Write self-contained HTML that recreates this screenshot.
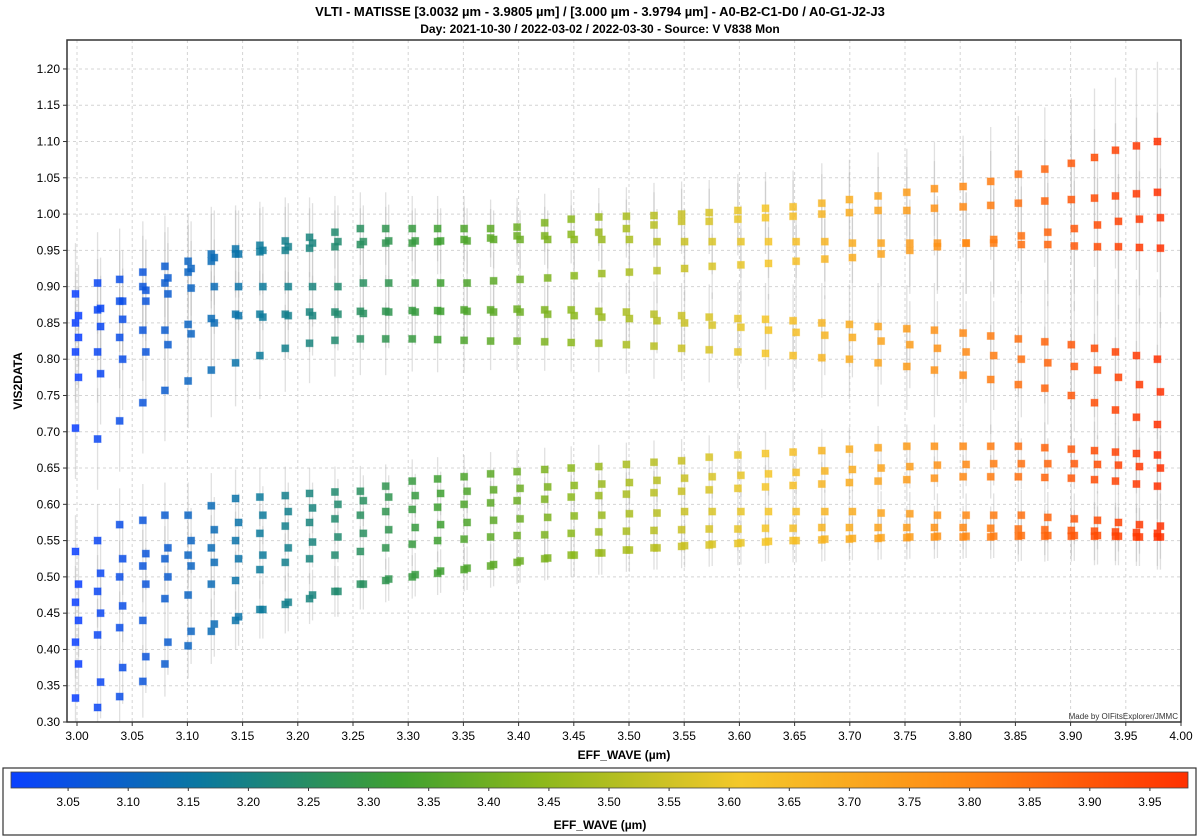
<!DOCTYPE html>
<html><head><meta charset="utf-8">
<style>
html,body{margin:0;padding:0;background:#fff;}
svg{display:block;font-family:"Liberation Sans",sans-serif;}
</style></head>
<body>
<svg id="chart" width="1200" height="838" viewBox="0 0 1200 838">
<defs>
<linearGradient id="cmap" x1="0" x2="1" y1="0" y2="0">
<stop offset="0" stop-color="#0a40ff"/>
<stop offset="0.16" stop-color="#0a78a0"/>
<stop offset="0.33" stop-color="#3fa030"/>
<stop offset="0.45" stop-color="#8cb81c"/>
<stop offset="0.62" stop-color="#f4c82a"/>
<stop offset="0.8" stop-color="#ff8c14"/>
<stop offset="1" stop-color="#ff3000"/>
</linearGradient>
</defs>
<text x="600" y="16" text-anchor="middle" font-size="13" font-weight="bold">VLTI - MATISSE [3.0032 µm - 3.9805 µm] / [3.000 µm - 3.9794 µm] - A0-B2-C1-D0 / A0-G1-J2-J3</text>
<text x="600" y="33" text-anchor="middle" font-size="12" font-weight="bold">Day: 2021-10-30 / 2022-03-02 / 2022-03-30 - Source: V V838 Mon</text>
<g id="grid"></g>
<g id="errs"></g>
<g id="marks"></g>
<g id="axes"></g>
<rect x="67" y="40" width="1114" height="682" fill="none" stroke="#333" stroke-width="1.5"/>
<text x="1178" y="719" text-anchor="end" font-size="8" fill="#333">Made by OIFitsExplorer/JMMC</text>
<text transform="translate(22,381) rotate(-90)" text-anchor="middle" font-size="12" font-weight="bold">VIS2DATA</text>
<text x="624" y="759" text-anchor="middle" font-size="12" font-weight="bold">EFF_WAVE (µm)</text>
<rect x="3" y="768" width="1193" height="67" fill="#fff" stroke="#333" stroke-width="1.2"/>
<rect x="11" y="772" width="1177" height="16" fill="url(#cmap)" stroke="#444" stroke-width="0.8"/>
<g id="cbticks"></g>
<text x="600" y="829" text-anchor="middle" font-size="12" font-weight="bold">EFF_WAVE (µm)</text>
</svg>
<script>
const waves=[3.000,3.020,3.040,3.061,3.081,3.102,3.123,3.145,3.167,3.190,3.212,3.235,3.258,3.281,3.305,3.328,3.352,3.376,3.400,3.425,3.449,3.474,3.499,3.524,3.549,3.574,3.600,3.625,3.650,3.676,3.701,3.727,3.753,3.778,3.804,3.829,3.854,3.878,3.902,3.923,3.942,3.961,3.980];
const upperT1=[0.89,0.905,0.91,0.92,0.928,0.935,0.945,0.952,0.957,0.963,0.968,0.975,0.98,0.98,0.98,0.98,0.98,0.98,0.982,0.988,0.993,0.996,0.997,0.998,1.0,1.002,1.005,1.008,1.01,1.015,1.02,1.025,1.03,1.035,1.038,1.045,1.055,1.062,1.07,1.078,1.088,1.094,1.1];
const upperT2=[0.86,0.87,0.88,0.895,0.912,0.925,0.94,0.945,0.95,0.955,0.96,0.962,0.962,0.963,0.963,0.963,0.963,0.965,0.965,0.965,0.965,0.965,0.965,0.962,0.962,0.962,0.962,0.962,0.962,0.962,0.96,0.96,0.96,0.96,0.96,0.96,0.958,0.958,0.956,0.955,0.955,0.954,0.953];
const upperT3=[0.85,0.868,0.88,0.9,0.905,0.92,0.935,0.945,0.948,0.95,0.953,0.955,0.958,0.96,0.96,0.962,0.965,0.967,0.97,0.97,0.972,0.975,0.98,0.985,0.99,0.99,0.993,0.995,0.997,1.0,1.002,1.005,1.005,1.008,1.01,1.012,1.015,1.018,1.02,1.022,1.025,1.028,1.03];
const upperT4=[0.83,0.845,0.855,0.88,0.89,0.898,0.9,0.9,0.9,0.9,0.9,0.9,0.905,0.905,0.905,0.905,0.905,0.908,0.91,0.912,0.915,0.918,0.92,0.922,0.925,0.928,0.93,0.932,0.935,0.938,0.94,0.945,0.95,0.955,0.96,0.965,0.97,0.975,0.98,0.985,0.99,0.993,0.995];
const upperT5=[0.81,0.81,0.83,0.84,0.84,0.848,0.856,0.862,0.862,0.862,0.865,0.865,0.866,0.866,0.867,0.867,0.868,0.868,0.869,0.868,0.868,0.866,0.865,0.862,0.86,0.858,0.856,0.855,0.853,0.85,0.848,0.845,0.842,0.84,0.836,0.832,0.828,0.824,0.82,0.815,0.81,0.805,0.80];
const upperT6=[0.775,0.78,0.80,0.81,0.82,0.835,0.85,0.86,0.858,0.86,0.86,0.862,0.863,0.865,0.865,0.866,0.866,0.865,0.865,0.862,0.86,0.858,0.856,0.853,0.85,0.847,0.844,0.84,0.837,0.833,0.83,0.825,0.82,0.815,0.81,0.805,0.8,0.795,0.79,0.785,0.775,0.765,0.755];
const upperT7=[0.705,0.69,0.715,0.74,0.757,0.77,0.785,0.795,0.805,0.815,0.822,0.826,0.828,0.828,0.828,0.827,0.826,0.825,0.825,0.824,0.823,0.822,0.82,0.818,0.815,0.813,0.81,0.808,0.805,0.802,0.8,0.795,0.79,0.785,0.778,0.772,0.765,0.76,0.75,0.74,0.73,0.72,0.71];
const lowerL1=[0.535,0.55,0.572,0.578,0.585,0.585,0.598,0.608,0.61,0.612,0.615,0.617,0.618,0.625,0.632,0.635,0.638,0.642,0.645,0.648,0.65,0.652,0.655,0.658,0.66,0.665,0.668,0.67,0.672,0.674,0.676,0.678,0.68,0.68,0.68,0.68,0.68,0.678,0.676,0.674,0.672,0.67,0.668];
const lowerL2=[0.49,0.505,0.525,0.532,0.54,0.55,0.565,0.575,0.585,0.59,0.595,0.6,0.605,0.61,0.612,0.615,0.618,0.62,0.622,0.624,0.626,0.628,0.63,0.633,0.636,0.638,0.64,0.642,0.644,0.646,0.648,0.65,0.652,0.654,0.655,0.656,0.656,0.656,0.656,0.655,0.654,0.652,0.65];
const lowerL3=[0.465,0.48,0.5,0.515,0.525,0.53,0.54,0.55,0.56,0.57,0.575,0.58,0.585,0.59,0.593,0.596,0.6,0.602,0.605,0.607,0.61,0.612,0.614,0.616,0.618,0.62,0.622,0.624,0.626,0.628,0.63,0.632,0.634,0.636,0.638,0.638,0.638,0.637,0.636,0.634,0.632,0.628,0.625];
const lowerL4=[0.44,0.45,0.46,0.49,0.5,0.515,0.52,0.525,0.53,0.54,0.548,0.555,0.56,0.565,0.568,0.572,0.575,0.578,0.58,0.582,0.584,0.585,0.587,0.588,0.59,0.59,0.59,0.59,0.59,0.59,0.59,0.588,0.587,0.585,0.585,0.585,0.585,0.582,0.58,0.578,0.575,0.572,0.57];
const lowerL5=[0.41,0.42,0.43,0.44,0.47,0.475,0.49,0.495,0.51,0.52,0.525,0.53,0.535,0.54,0.545,0.55,0.552,0.555,0.557,0.558,0.56,0.562,0.563,0.564,0.565,0.566,0.566,0.567,0.567,0.568,0.568,0.568,0.568,0.568,0.568,0.567,0.566,0.565,0.564,0.563,0.562,0.561,0.56];
const lowerL6=[0.38,0.355,0.375,0.39,0.41,0.425,0.435,0.445,0.455,0.465,0.475,0.48,0.49,0.497,0.503,0.508,0.512,0.517,0.522,0.526,0.53,0.533,0.537,0.54,0.543,0.545,0.547,0.549,0.55,0.552,0.553,0.554,0.555,0.556,0.556,0.556,0.557,0.557,0.557,0.557,0.556,0.555,0.555];
const lowerL7=[0.333,0.32,0.335,0.356,0.38,0.405,0.425,0.44,0.455,0.462,0.47,0.48,0.49,0.495,0.5,0.505,0.51,0.515,0.52,0.525,0.53,0.533,0.537,0.54,0.542,0.544,0.546,0.548,0.55,0.551,0.552,0.553,0.554,0.555,0.555,0.555,0.556,0.556,0.556,0.556,0.556,0.555,0.555];
const upperErr=[0.07,0.07,0.07,0.07,0.07,0.065,0.065,0.06,0.06,0.06,0.055,0.05,0.05,0.05,0.045,0.045,0.045,0.04,0.04,0.04,0.04,0.04,0.04,0.045,0.045,0.045,0.05,0.05,0.05,0.055,0.055,0.06,0.06,0.065,0.07,0.075,0.08,0.085,0.09,0.095,0.1,0.105,0.11];
const lowerErr=[0.05,0.05,0.05,0.05,0.045,0.045,0.045,0.04,0.04,0.04,0.035,0.035,0.035,0.03,0.03,0.03,0.03,0.03,0.03,0.03,0.03,0.03,0.03,0.03,0.03,0.03,0.03,0.03,0.03,0.03,0.03,0.03,0.03,0.03,0.03,0.03,0.035,0.035,0.035,0.04,0.04,0.04,0.045];
const xTicks=["3.00","3.05","3.10","3.15","3.20","3.25","3.30","3.35","3.40","3.45","3.50","3.55","3.60","3.65","3.70","3.75","3.80","3.85","3.90","3.95","4.00"];
const yTicks=["0.30","0.35","0.40","0.45","0.50","0.55","0.60","0.65","0.70","0.75","0.80","0.85","0.90","0.95","1.00","1.05","1.10","1.15","1.20"];
const cbTicks=["3.05","3.10","3.15","3.20","3.25","3.30","3.35","3.40","3.45","3.50","3.55","3.60","3.65","3.70","3.75","3.80","3.85","3.90","3.95"];

const NS="http://www.w3.org/2000/svg";
function X(w){return 77+(w-3.0)*1104;}
function Y(v){return 722-(v-0.30)*725.6;}
function CB(w){return 8+(w-3.0)*1202;}
const stops=[[3.0,[10,64,255]],[3.16,[10,120,160]],[3.33,[63,160,48]],[3.45,[140,184,28]],[3.62,[244,200,42]],[3.8,[255,140,20]],[3.98,[255,48,0]]];
function col(w){for(let i=0;i<stops.length-1;i++){const a=stops[i],b=stops[i+1];if(w<=b[0]||i==stops.length-2){let t=Math.max(0,Math.min(1,(w-a[0])/(b[0]-a[0])));const c=a[1].map((v,k)=>Math.round(v+(b[1][k]-v)*t));return `rgb(${c.join(',')})`;}}}
function mk(tag,attrs,parent){const e=document.createElementNS(NS,tag);for(const k in attrs)e.setAttribute(k,attrs[k]);parent.appendChild(e);return e;}
const grid=document.getElementById('grid'),axes=document.getElementById('axes');
xTicks.forEach(t=>{const x=X(+t);
 const g=mk('line',{x1:x,x2:x,y1:40,y2:722,stroke:'#d4d4d4','stroke-dasharray':'3,3'},grid);
 
 
 mk('line',{x1:x,x2:x,y1:722,y2:726,stroke:'#333'},axes);
 const l=mk('text',{x:x,y:740,'text-anchor':'middle','font-size':'12'},axes);l.textContent=t;
 
 });
yTicks.forEach(t=>{const y=Y(+t);
 const g=mk('line',{x1:67,x2:1181,y1:y,y2:y,stroke:'#d4d4d4','stroke-dasharray':'3,3'},grid);
 
 
 mk('line',{x1:63,x2:67,y1:y,y2:y,stroke:'#333'},axes);
 const l=mk('text',{x:60,y:y+4,'text-anchor':'end','font-size':'12'},axes);l.textContent=t;
 
 });
const cb=document.getElementById('cbticks');
cbTicks.forEach(t=>{const x=CB(+t);
 mk('line',{x1:x,x2:x,y1:788,y2:791,stroke:'#333'},cb);
 const l=mk('text',{x:x,y:806,'text-anchor':'middle','font-size':'12'},cb);l.textContent=t;
 
 });
const errs=document.getElementById('errs'),marks=document.getElementById('marks');
const upper=[upperT1,upperT2,upperT3,upperT4,upperT5,upperT6,upperT7];
const lower=[lowerL1,lowerL2,lowerL3,lowerL4,lowerL5,lowerL6,lowerL7];
function draw(series,err,name){series.forEach((s,si)=>{s.forEach((v,i)=>{const w=waves[i];const x=X(w)+(si%2?1.5:-1.5),y=Y(v);
 const e=mk('line',{x1:x,x2:x,y1:Y(v+err[i]),y2:Y(Math.max(0.3,v-err[i])),stroke:'#bbb','stroke-opacity':'0.45','stroke-width':'1.3'},errs);
 
 
 const r=mk('rect',{x:x-3.5,y:y-3.5,width:7,height:7,fill:col(w),'fill-opacity':'0.85',stroke:col(w),'stroke-opacity':'0.4','stroke-width':'1'},marks);
 
 });});}
draw(upper,upperErr,'upper');
draw(lower,lowerErr,'lower');
</script>
</body></html>
